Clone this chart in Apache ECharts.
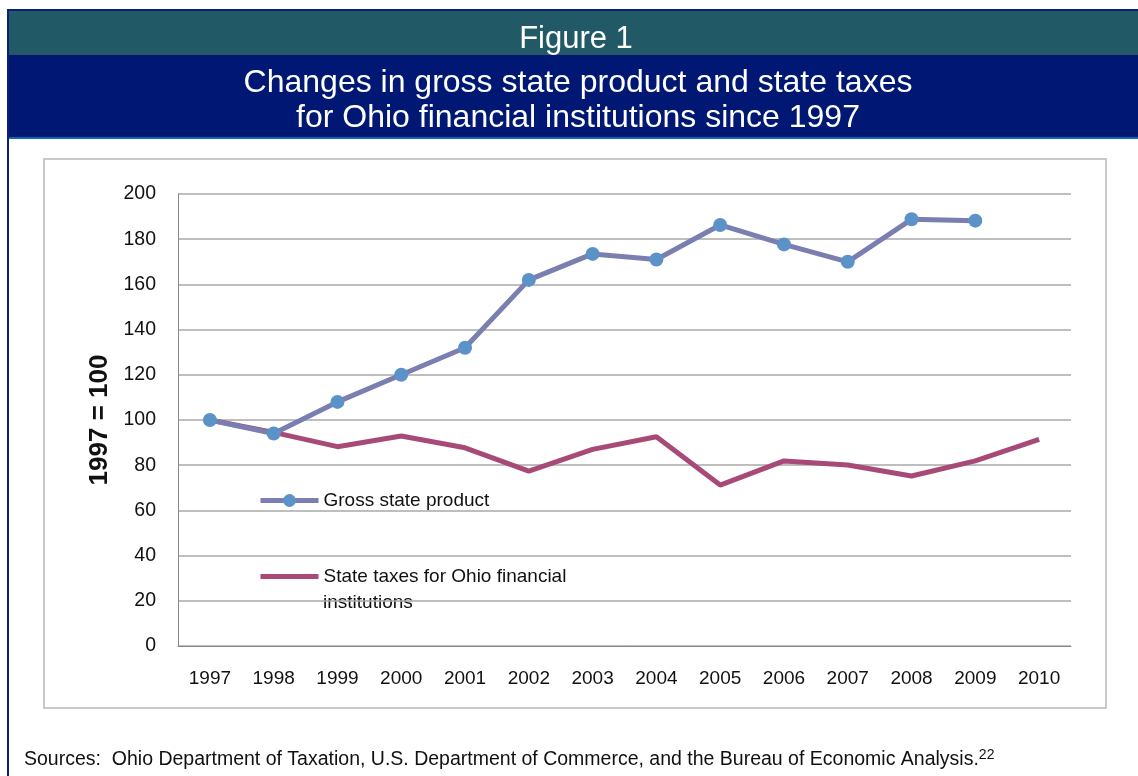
<!DOCTYPE html>
<html><head><meta charset="utf-8">
<script src="https://cdn.jsdelivr.net/npm/echarts@6/dist/echarts.min.js"></script>
<style>html,body{margin:0;padding:0;background:#fff}#c{width:1138px;height:776px}</style>
</head><body><div id="c"></div>
<script>
const years = ['1997','1998','1999','2000','2001','2002','2003','2004','2005','2006','2007','2008','2009','2010'];
const grossStateProduct = [100, 94, 108, 120, 132, 162, 173.5, 171, 186.3, 177.7, 170, 188.8, 188.2, null];
const stateTaxes = [100, 94.5, 88.2, 92.9, 87.7, 77.4, 87, 92.6, 71.2, 81.9, 80.1, 75.2, 81.9, 91.4];
const yTicks = {min: 0, max: 200, interval: 20};

const FONT = '"Liberation Sans", Arial, sans-serif';
const chart = echarts.init(document.getElementById('c'));
chart.setOption({
  animation: false,
  textStyle: {fontFamily: FONT},
  graphic: [
    {type: 'rect', shape: {x: 8, y: 10, width: 1140, height: 780}, style: {fill: '#fff', stroke: '#0b1f7a', lineWidth: 2}, z: -10},
    {type: 'rect', shape: {x: 9, y: 11, width: 1130, height: 44}, style: {fill: '#225966'}, z: -9},
    {type: 'rect', shape: {x: 9, y: 55, width: 1130, height: 82}, style: {fill: '#001874'}, z: -9},
    {type: 'rect', shape: {x: 9, y: 137, width: 1130, height: 2}, style: {fill: '#1565b5'}, z: -9},
    {type: 'text', x: 576, y: 39, style: {text: 'Figure 1', fill: '#fff', font: '31px ' + FONT, align: 'center', verticalAlign: 'middle'}},
    {type: 'text', x: 578, y: 101, style: {text: 'Changes in gross state product and state taxes\nfor Ohio financial institutions since 1997', fill: '#fff', font: '32px ' + FONT, lineHeight: 35, align: 'center', verticalAlign: 'middle'}},
    {type: 'rect', shape: {x: 44, y: 159, width: 1062, height: 549}, style: {fill: 'none', stroke: '#b8b8b8', lineWidth: 1.5}, z: -5},
    {type: 'text', x: 323, y: 603, style: {text: 'institutions', font: '19px ' + FONT, fill: '#111', verticalAlign: 'middle'}},
    {type: 'text', x: 24, y: 760, style: {
      text: '{a|Sources:  Ohio Department of Taxation, U.S. Department of Commerce, and the Bureau of Economic Analysis.}{s|22}',
      rich: {a: {font: '19.5px ' + FONT, fill: '#111'}, s: {font: '14px ' + FONT, fill: '#111', verticalAlign: 'top', padding: [0,0,10,0]}},
      verticalAlign: 'middle'}}
  ],
  grid: {left: 178, right: 67, top: 194, bottom: 130},
  legend: [
    {data: ['Gross state product'], left: 258, top: 491, padding: 0, itemWidth: 58, itemHeight: 16,
     lineStyle: {width: 5}, textStyle: {fontSize: 19, color: '#111', fontFamily: FONT}},
    {data: ['State taxes for Ohio financial institutions'], left: 258, top: 567, padding: 0, itemWidth: 58, itemHeight: 16,
     formatter: () => 'State taxes for Ohio financial',
     lineStyle: {width: 5}, itemStyle: {opacity: 0},
     textStyle: {fontSize: 19, color: '#111', fontFamily: FONT}}
  ],
  xAxis: {type: 'category', data: years, boundaryGap: true,
    axisLine: {lineStyle: {color: '#888', width: 1}}, axisTick: {show: false},
    axisLabel: {fontSize: 19, color: '#111', margin: 23, fontFamily: FONT}},
  yAxis: {type: 'value', min: yTicks.min, max: yTicks.max, interval: yTicks.interval,
    name: '1997 = 100', nameLocation: 'middle', nameGap: 64, nameRotate: 90,
    nameTextStyle: {fontSize: 26, fontWeight: 'bold', color: '#111', fontFamily: FONT},
    axisLine: {show: true, lineStyle: {color: '#888', width: 1}}, axisTick: {show: false},
    axisLabel: {fontSize: 19.5, color: '#111', margin: 22, fontFamily: FONT},
    splitLine: {lineStyle: {color: '#a8a8a8', width: 1.5}}},
  series: [
    {name: 'Gross state product', type: 'line', data: grossStateProduct, symbol: 'circle', symbolSize: 14,
     lineStyle: {color: '#7b7eb0', width: 5}, itemStyle: {color: '#5b93c8', borderWidth: 0}, z: 3},
    {name: 'State taxes for Ohio financial institutions', type: 'line', data: stateTaxes, symbol: 'none',
     lineStyle: {color: '#a84a78', width: 5}, itemStyle: {color: '#a84a78'}, z: 2}
  ]
});
</script></body></html>
